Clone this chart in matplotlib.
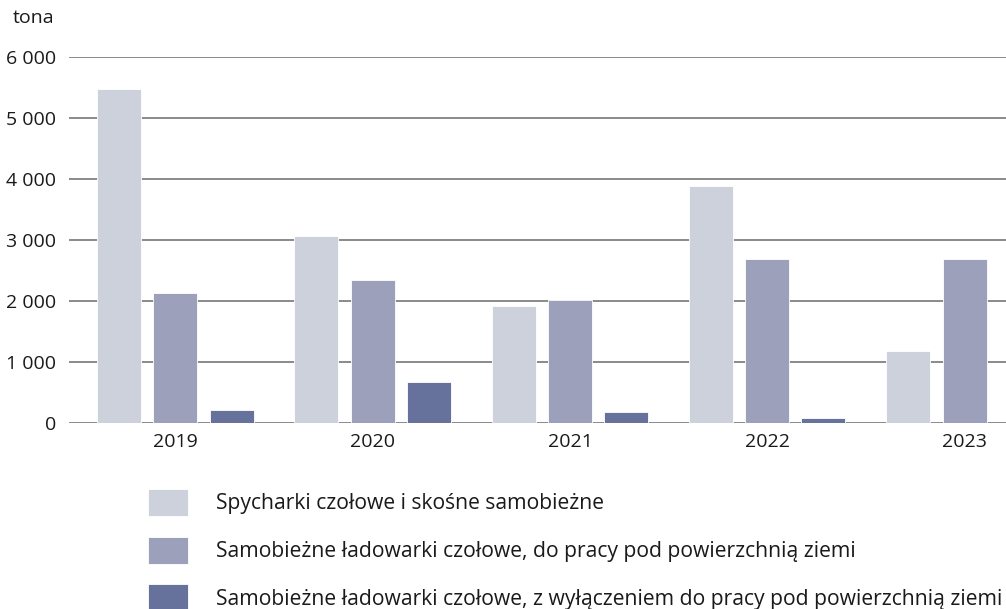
import numpy as np
import matplotlib
matplotlib.use("Agg")
import matplotlib.pyplot as plt
from matplotlib.ticker import FuncFormatter

plt.rcParams['font.family'] = ['Open Sans', 'DejaVu Sans']

years = ['2019', '2020', '2021', '2022', '2023']
series_labels = [
    'Spycharki czołowe i skośne samobieżne',
    'Samobieżne ładowarki czołowe, do pracy pod powierzchnią ziemi',
    'Samobieżne ładowarki czołowe, z wyłączeniem do pracy pod powierzchnią ziemi',
]
spycharki = [5470, 3065, 1920, 3880, 1180]
ladowarki_pod = [2130, 2340, 2020, 2680, 2695]
ladowarki_bez = [220, 680, 180, 80, 0]
colors = ['#CDD1DC', '#9CA0BA', '#66729C']

fig = plt.figure(figsize=(10.06, 6.09), dpi=100)
ax = fig.add_axes([69 / 1006, 1 - 423.3 / 609, 1 - 69 / 1006, (423.3 - 56.5) / 609])

x = np.arange(len(years))
width = 0.223
step = 0.285
handles = []
for i, (vals, col) in enumerate(zip([spycharki, ladowarki_pod, ladowarki_bez], colors)):
    b = ax.bar(x + (i - 1) * step, vals, width, color=col, edgecolor='white',
               linewidth=0.6, zorder=3)
    handles.append(b)

ax.set_ylim(0, 6000)
ax.set_xlim(-0.539, 4.21)
ax.set_yticks(np.arange(0, 6001, 1000))
ax.yaxis.set_major_formatter(FuncFormatter(lambda v, p: f'{int(v):,}'.replace(',', ' ')))
ax.set_xticks(x)
ax.set_xticklabels(years)
ax.grid(axis='y', color='#777777', linewidth=1.2, zorder=0)
ax.set_axisbelow(True)
for s in ax.spines.values():
    s.set_visible(False)
ax.tick_params(axis='both', length=0, labelsize=14, colors='#1a1a1a')
ax.tick_params(axis='y', pad=9)
ax.tick_params(axis='x', pad=7)

fig.text(13 / 1006, 1 - 18 / 609, 'tona', fontsize=14, va='center', ha='left',
         color='#1a1a1a')

leg = fig.legend(handles, series_labels, loc='upper left',
                 bbox_to_anchor=(148 / 1006, 1 - 489 / 609), frameon=False,
                 fontsize=15.2, handlelength=1.9, handleheight=1.6,
                 handletextpad=1.3, labelspacing=0.97, borderaxespad=0,
                 borderpad=0)
for t in leg.get_texts():
    t.set_color('#1a1a1a')

fig.savefig('out.png', dpi=100)
